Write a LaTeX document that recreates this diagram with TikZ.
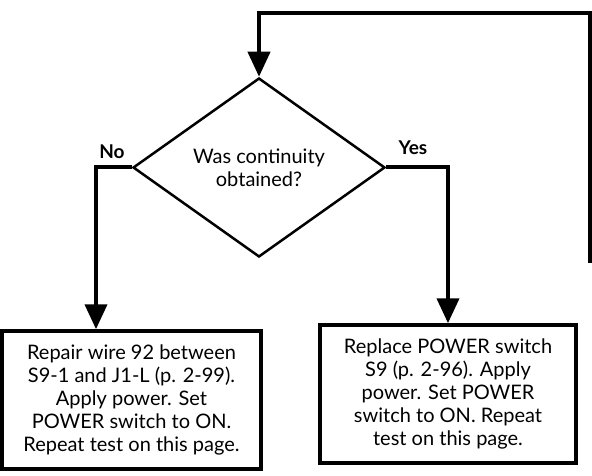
\documentclass[tikz,border=0pt]{standalone}
\usepackage{fontspec}
\setmainfont{Lato}
\usetikzlibrary{shapes.geometric,arrows.meta}
\begin{document}
\begin{tikzpicture}[x=1pt,y=-1pt,
  flow/.style={line width=4pt,-{Triangle[width=22pt,length=25pt]}},
  decision/.style={draw,diamond,line width=2.5pt,inner sep=0pt,
    minimum width=252pt,minimum height=179pt,align=center,
    font=\fontsize{20}{23}\selectfont},
  actionbox/.style={draw,rectangle,line width=3.5pt,inner sep=0pt,align=center,
    font=\fontsize{20}{23}\selectfont},
  branchlabel/.style={font=\bfseries\fontsize{19}{23}\selectfont,inner sep=0pt}]
\useasboundingbox[fill=white] (0,0) rectangle (592,476);
\node[decision] (d) at (259,167.5) {Was continuity\\obtained?};
\node[actionbox,minimum width=259pt,minimum height=138pt] (lb) at (131.5,400)
  {Repair wire 92 between\\S9-1 and J1-L (p. 2-99).\\Apply power. Set\\POWER switch to ON.\\Repeat test on this page.};
\node[actionbox,minimum width=256pt,minimum height=138pt] (rb) at (448,394)
  {Replace POWER switch\\S9 (p. 2-96). Apply\\power. Set POWER\\switch to ON. Repeat\\test on this page.};
\node[branchlabel] (no) at (112,152) {No};
\node[branchlabel] (yes) at (413,148) {Yes};
\coordinate (loopend) at (590,263);
\coordinate (looptop) at (259,13);
\coordinate (nocorner) at (96,167.5);
\draw[flow] (loopend) |- (looptop) -- (d.north);
\draw[flow] (d.west) -- (nocorner) -- (nocorner |- lb.north);
\draw[flow] (d.east) -| (rb.north);
\end{tikzpicture}
\end{document}
